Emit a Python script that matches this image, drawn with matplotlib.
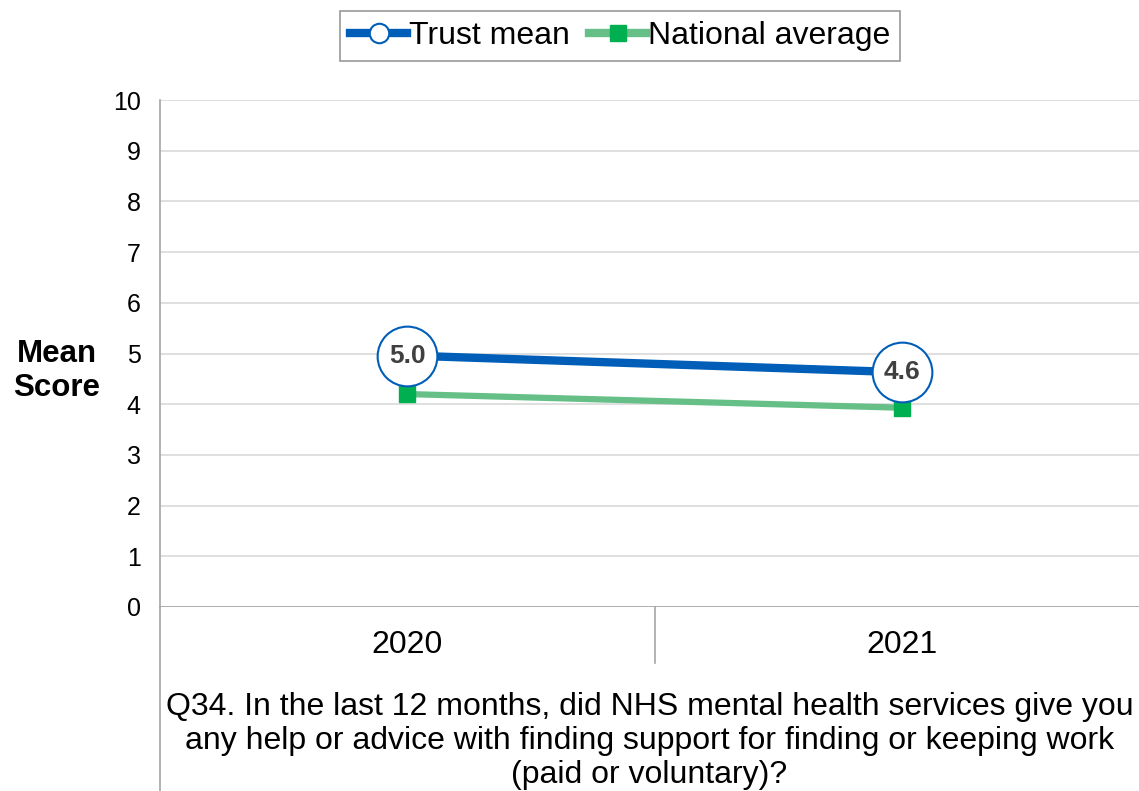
import matplotlib.pyplot as plt
from matplotlib.lines import Line2D

plt.rcParams['font.family'] = ['Liberation Sans', 'DejaVu Sans']

# Data
years = ['2020', '2021']
trust_mean = [4.96, 4.63]
national_avg = [4.20, 3.93]
question = ('Q34. In the last 12 months, did NHS mental health services give you\n'
            'any help or advice with finding support for finding or keeping work\n'
            '(paid or voluntary)?')

blue = '#005EB8'
green_line = '#66BF87'
green_mark = '#00B050'
grid_col = '#D9D9D9'
axis_col = '#A6A6A6'

fig = plt.figure(figsize=[11.39, 7.91], dpi=100)
ax = fig.add_axes([160/1139, 1 - 607/791, 979/1139, 507/791])

x = list(range(len(years)))

# National average line
ax.plot(x, national_avg, color=green_line, linewidth=4.5, zorder=3)
ax.plot(x, national_avg, linestyle='none', marker='s', markersize=11,
        color=green_mark, zorder=4)

# Trust mean line with labelled circles
ax.plot(x, trust_mean, color=blue, linewidth=6, zorder=5)
ax.plot(x, trust_mean, linestyle='none', marker='o', markersize=43,
        markerfacecolor='white', markeredgecolor=blue, markeredgewidth=1.5,
        zorder=6)
for xi, v in zip(x, trust_mean):
    ax.text(xi, v, '%.1f' % v, ha='center', va='center', fontsize=19,
            fontweight='bold', color='#404040', zorder=7)

# Axes
ax.set_ylim(0, 10)
ax.set_xlim(-0.5, 1.478)
ax.set_yticks(range(0, 11))
ax.set_xticks([])
ax.tick_params(axis='y', length=0, labelsize=18, pad=14)
ax.yaxis.grid(True, color=grid_col, linewidth=1.2)
ax.set_axisbelow(True)
for s in ['top', 'right', 'bottom']:
    ax.spines[s].set_visible(False)
ax.spines['left'].set_color(axis_col)
ax.spines['left'].set_linewidth(1.2)
ax.axhline(0, color=axis_col, linewidth=1.2, zorder=2)

# category axis lines below the plot
ax.axvline(-0.5, ymin=-184/507, ymax=0, color=axis_col, linewidth=1.2, clip_on=False)
ax.axvline(0.5, ymin=-56/507, ymax=0, color=axis_col, linewidth=1.2, clip_on=False)

for xi, yr in zip(x, years):
    ax.text(xi, -0.75, yr, ha='center', va='center', fontsize=23,
            transform=ax.transData)

fig.text((160 + 1139) / 2 / 1139, 1 - 741/791, question, ha='center',
         va='center', fontsize=23, linespacing=1.16)

fig.text(57/1139, 1 - 371/791, 'Mean\nScore', ha='center', va='center',
         fontsize=22.5, fontweight='bold', linespacing=1.15)

# Legend
handles = [
    Line2D([], [], color=blue, linewidth=6, marker='o', markersize=14,
           markerfacecolor='white', markeredgecolor=blue, markeredgewidth=1.5),
    Line2D([], [], color=green_line, linewidth=6, marker='s', markersize=12,
           markerfacecolor=green_mark, markeredgecolor=green_mark),
]
leg = fig.legend(handles, ['Trust mean', 'National average'], loc='center',
                 bbox_to_anchor=(620/1139, 1 - 36/791), ncol=2, fontsize=23,
                 frameon=True, fancybox=False, edgecolor='#808080',
                 handlelength=1.8, handletextpad=0.05, columnspacing=0.6,
                 borderpad=0.3, borderaxespad=0)
leg.get_frame().set_linewidth(1.2)

plt.savefig('out.png', dpi=100)
